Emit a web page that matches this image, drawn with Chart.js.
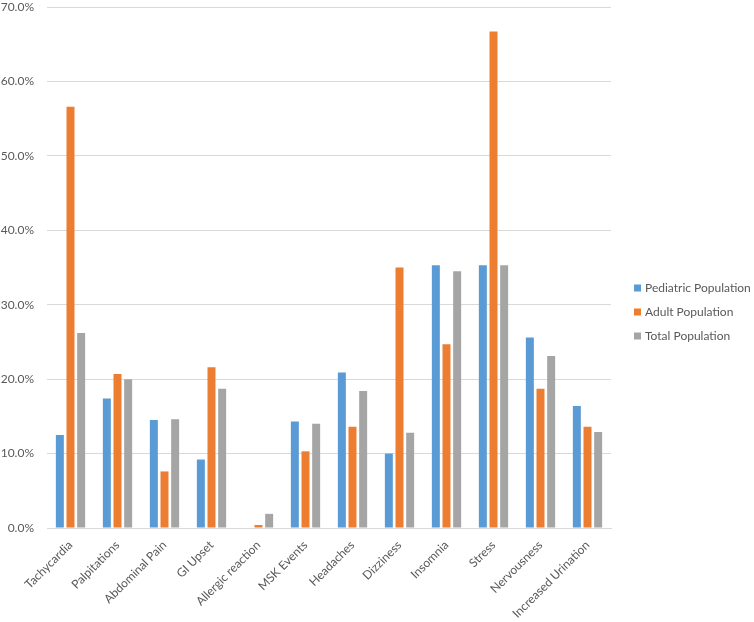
<!DOCTYPE html>
<html>
<head>
<meta charset="utf-8">
<script src="https://cdn.jsdelivr.net/npm/chart.js"></script>
<style>
    body { margin: 0; background: #fff; }
    canvas { display: block; }
</style>
</head>
<body>
<canvas id="sideEffects" width="754" height="622"></canvas>
<script>
// --- DATA ---
const categories = ['Tachycardia', 'Palpitations', 'Abdominal Pain', 'GI Upset', 'Allergic reaction', 'MSK Events',
    'Headaches', 'Dizziness', 'Insomnia', 'Stress', 'Nervousness', 'Increased Urination'];
const pediatric = [12.5, 17.4, 14.5, 9.2, 0, 14.3, 20.9, 10.0, 35.3, 35.3, 25.6, 16.4];
const adult     = [56.6, 20.7, 7.6, 21.6, 0.4, 10.3, 13.6, 35.0, 24.7, 66.7, 18.7, 13.6];
const total     = [26.2, 20.0, 14.6, 18.7, 1.9, 14.0, 18.4, 12.8, 34.5, 35.3, 23.1, 12.9];
const yTicks = [0, 10, 20, 30, 40, 50, 60, 70];

const textColor = '#595959';
const gridColor = '#d9d9d9';
const font = { family: 'Lato, sans-serif', size: 12 };

// legend drawn by hand so it sits centred on the whole canvas like the original
const sideLegend = {
    id: 'sideLegend',
    afterDraw(chart) {
        const ctx = chart.ctx;
        ctx.save();
        ctx.font = '12px Lato, sans-serif';
        ctx.textBaseline = 'middle';
        chart.data.datasets.forEach((ds, i) => {
            const y = 288 + i * 24;
            ctx.fillStyle = ds.backgroundColor;
            ctx.fillRect(634, y - 3.5, 7, 7);
            ctx.fillStyle = textColor;
            ctx.fillText(ds.label, 645, y);
        });
        ctx.restore();
    }
};

new Chart(document.getElementById('sideEffects'), {
    type: 'bar',
    data: {
        labels: categories,
        datasets: [
            { label: 'Pediatric Population', data: pediatric, backgroundColor: '#5b9bd5' },
            { label: 'Adult Population', data: adult, backgroundColor: '#ed7d31' },
            { label: 'Total Population', data: total, backgroundColor: '#a5a5a5' }
        ]
    },
    options: {
        responsive: false,
        animation: false,
        devicePixelRatio: 1,
        categoryPercentage: 0.68,
        barPercentage: 0.75,
        layout: { padding: { top: 7, right: 143, left: 0, bottom: 0 } },
        plugins: { legend: { display: false }, tooltip: { enabled: false } },
        scales: {
            x: {
                grid: { display: false },
                border: { display: true, color: gridColor },
                ticks: { color: textColor, font: font, minRotation: 45, maxRotation: 45, padding: 2 },
                afterFit: s => { s.height = 94; s.paddingLeft = 0; s.paddingRight = 0; }
            },
            y: {
                min: 0,
                max: 70,
                grid: { color: gridColor, drawTicks: false },
                border: { display: false },
                afterBuildTicks: s => { s.ticks = yTicks.map(v => ({ value: v })); },
                ticks: { color: textColor, font: font, padding: 13, callback: v => v.toFixed(1) + '%' },
                afterFit: s => { s.width = 47; s.paddingTop = 0; s.paddingBottom = 0; }
            }
        }
    },
    plugins: [sideLegend]
});
</script>
</body>
</html>
